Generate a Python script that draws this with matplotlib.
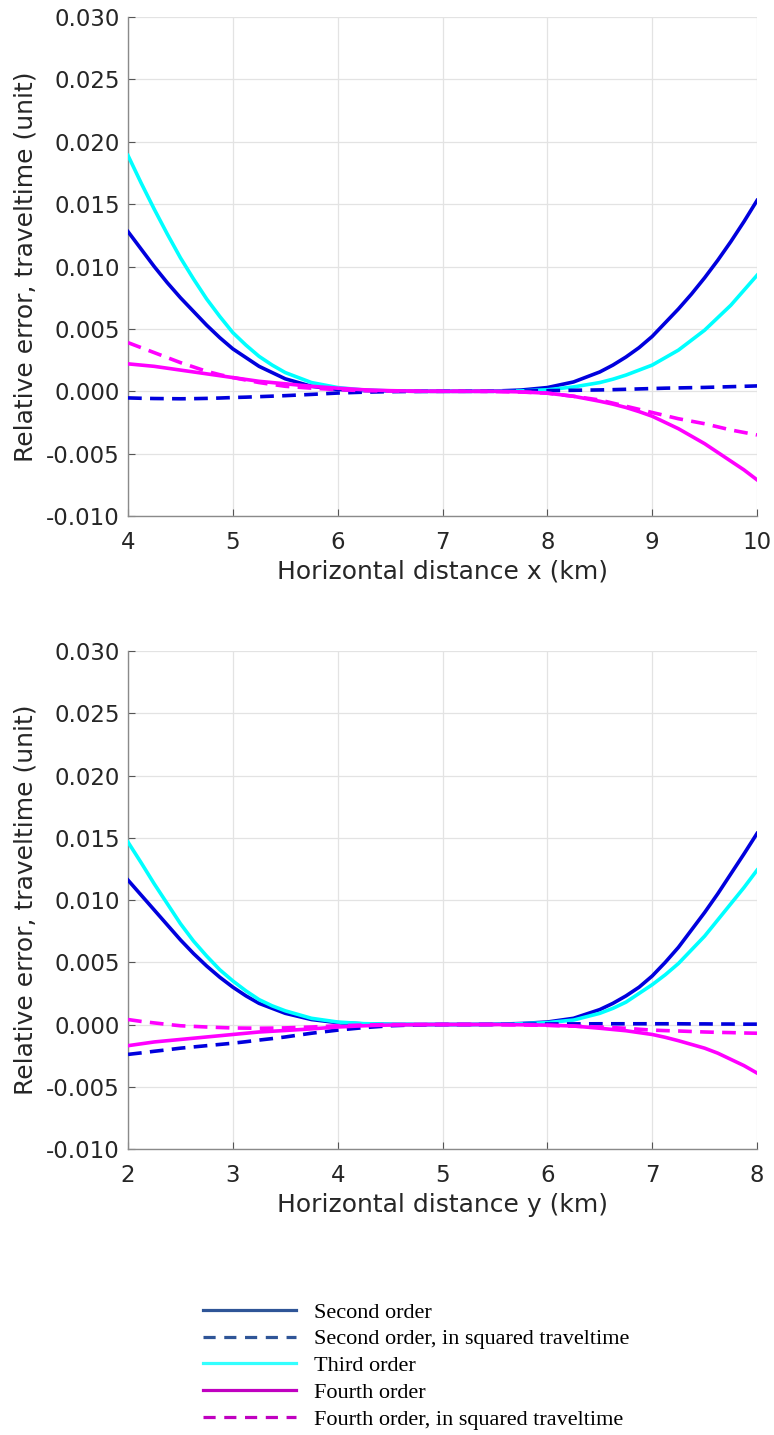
import matplotlib.pyplot as plt
from matplotlib.lines import Line2D
from matplotlib.ticker import FormatStrFormatter

# sample positions (km), denser where the curves bend fast
x_top = [4.0, 4.125, 4.25, 4.375, 4.5, 4.625, 4.75, 4.875, 5.0, 5.125, 5.25, 5.375, 5.5,
         5.75, 6.0, 6.25, 6.5, 6.75, 7.0, 7.25, 7.5, 7.75, 8.0, 8.25,
         8.5, 8.625, 8.75, 8.875, 9.0, 9.125, 9.25, 9.375, 9.5, 9.625, 9.75, 9.875, 10.0]
x_bot = [2.0, 2.125, 2.25, 2.375, 2.5, 2.625, 2.75, 2.875, 3.0, 3.125, 3.25, 3.375, 3.5,
         3.75, 4.0, 4.25, 4.5, 4.75, 5.0, 5.25, 5.5, 5.75, 6.0, 6.25,
         6.5, 6.625, 6.75, 6.875, 7.0, 7.125, 7.25, 7.375, 7.5, 7.625, 7.75, 7.875, 8.0]

# top panel: error along x
second_x = [0.0128, 0.0114, 0.0100, 0.0087, 0.0075, 0.0064, 0.0053, 0.0043, 0.0034,
            0.0027, 0.0020, 0.0015, 0.0010,
            0.0004, 0.00015, 0.00006, 0.00002, 0.0, 0.0, 0.0, 0.00002, 0.0001, 0.0003, 0.00075,
            0.00155, 0.0021, 0.00275, 0.0035, 0.0044, 0.0055, 0.0066, 0.0078, 0.0091,
            0.0105, 0.0120, 0.0136, 0.0153]
second_sq_x = [-0.00053, -0.00056, -0.00058, -0.00059, -0.0006, -0.00059, -0.00057,
               -0.00054, -0.0005, -0.00047, -0.00043, -0.00039, -0.00035,
               -0.00025, -0.00014, -0.00007, -0.00003, -0.00001, 0.0, 0.0, 0.0,
               0.00002, 0.00005, 0.00008,
               0.00011, 0.00013, 0.00016, 0.00019, 0.00022, 0.00025, 0.00027, 0.00029,
               0.00031, 0.00034, 0.00037, 0.0004, 0.00043]
third_x = [0.0189, 0.0167, 0.0146, 0.0126, 0.0107, 0.0090, 0.0074, 0.0060, 0.0047,
           0.0037, 0.0028, 0.0021, 0.0015,
           0.0007, 0.0003, 0.0001, 0.00003, 0.0, 0.0, 0.0, 0.0, 0.00003, 0.00012, 0.00035,
           0.0007, 0.00097, 0.0013, 0.0017, 0.0021, 0.0027, 0.0033, 0.0041, 0.0049,
           0.0059, 0.0069, 0.0081, 0.0093]
fourth_x = [0.0022, 0.0021, 0.0020, 0.00185, 0.0017, 0.00155, 0.0014, 0.00125, 0.0011,
            0.00095, 0.0008, 0.0007, 0.0006,
            0.0004, 0.00025, 0.00012, 0.00005, 0.00001, 0.0, 0.0, 0.0, -0.00005,
            -0.00015, -0.0004,
            -0.0008, -0.00103, -0.0013, -0.00163, -0.0020, -0.0025, -0.0030, -0.0036,
            -0.0042, -0.0049, -0.0056, -0.0063, -0.0071]
fourth_sq_x = [0.0039, 0.0035, 0.0031, 0.0027, 0.0023, 0.00195, 0.0016, 0.00133, 0.0011,
               0.0009, 0.0007, 0.00055, 0.0004,
               0.00025, 0.00013, 0.00005, 0.00002, 0.0, 0.0, 0.0, -0.00002, -0.00006,
               -0.00015, -0.0004,
               -0.0007, -0.00095, -0.0012, -0.00145, -0.0017, -0.00195, -0.0022,
               -0.0024, -0.0026, -0.00285, -0.0031, -0.0033, -0.0035]

# bottom panel: error along y
second_y = [0.0116, 0.0104, 0.0092, 0.0080, 0.0068, 0.0057, 0.0047, 0.0038, 0.0030,
            0.0023, 0.0017, 0.0013, 0.0009,
            0.0004, 0.00015, 0.00005, 0.00001, 0.0, 0.0, 0.0, 0.00002, 0.00008, 0.0002, 0.0005,
            0.0012, 0.0017, 0.0023, 0.0030, 0.0039, 0.0050, 0.0062, 0.0076, 0.0090,
            0.0105, 0.0121, 0.0137, 0.01535]
second_sq_y = [-0.0024, -0.00228, -0.00215, -0.00203, -0.0019, -0.0018, -0.0017,
               -0.0016, -0.0015, -0.00138, -0.00125, -0.00113, -0.001,
               -0.0007, -0.00045, -0.00025, -0.0001, -0.00003, 0.0, 0.0, 0.0,
               0.00002, 0.00004, 0.00005,
               0.00006, 0.00006, 0.00006, 0.00006, 0.00006, 0.00006, 0.00006, 0.00005,
               0.00005, 0.00004, 0.00004, 0.00003, 0.00003]
third_y = [0.01465, 0.0130, 0.0113, 0.0097, 0.0081, 0.0067, 0.0055, 0.0044, 0.0035,
           0.0027, 0.0020, 0.0015, 0.0011,
           0.0005, 0.0002, 0.00007, 0.00002, 0.0, 0.0, 0.0, 0.00002, 0.00006, 0.00015,
           0.00036,
           0.0009, 0.0013, 0.0018, 0.0025, 0.0032, 0.0040, 0.0049, 0.0060, 0.0071,
           0.0084, 0.0097, 0.0110, 0.0124]
fourth_y = [-0.0017, -0.00155, -0.0014, -0.0013, -0.0012, -0.0011, -0.001, -0.0009,
            -0.0008, -0.0007, -0.0006, -0.00054, -0.00048,
            -0.00035, -0.0002, -0.0001, -0.00004, -0.00001, 0.0, 0.0, 0.0, -0.00002,
            -0.00005, -0.00012,
            -0.0003, -0.0004, -0.0005, -0.00065, -0.0008, -0.00103, -0.0013, -0.0016,
            -0.0019, -0.0023, -0.0028, -0.0033, -0.0039]
fourth_sq_y = [0.0004, 0.00025, 0.00013, 0.00001, -0.0001, -0.00015, -0.0002, -0.00024,
               -0.00028, -0.00029, -0.0003, -0.00029, -0.00027,
               -0.0002, -0.0001, -0.00004, -0.00001, 0.0, 0.0, 0.0, 0.0, -0.00003,
               -0.00007, -0.00013,
               -0.0002, -0.00025, -0.0003, -0.00038, -0.00045, -0.00049, -0.00052,
               -0.00056, -0.0006, -0.00063, -0.00065, -0.00068, -0.0007]

labels = ["Second order", "Second order, in squared traveltime", "Third order",
          "Fourth order", "Fourth order, in squared traveltime"]
y_ticks = [-0.010, -0.005, 0.000, 0.005, 0.010, 0.015, 0.020, 0.025, 0.030]

BLUE = '#0000dd'
CYAN = '#00ffff'
MAGENTA = '#ff00ff'
LW = 2.6
DASH = (3.8, 2.3)

fig = plt.figure(figsize=(7.74, 14.35), dpi=100)
ax1 = fig.add_axes([0.1654, 0.6404, 0.8127, 0.3477])
ax2 = fig.add_axes([0.1654, 0.1993, 0.8127, 0.3470])


def draw(ax, x, s, ssq, t, f, fsq, xlim, xlabel):
    ax.plot(x, s, color=BLUE, lw=LW, zorder=3)
    ax.plot(x, t, color=CYAN, lw=LW, zorder=3)
    ax.plot(x, ssq, color=BLUE, lw=LW, dashes=DASH, zorder=3)
    ax.plot(x, fsq, color=MAGENTA, lw=LW, dashes=DASH, zorder=3)
    ax.plot(x, f, color=MAGENTA, lw=LW, zorder=3)
    ax.set_xlim(*xlim)
    ax.set_ylim(-0.010, 0.030)
    ax.set_yticks(y_ticks)
    ax.set_xticks(range(xlim[0], xlim[1] + 1))
    ax.yaxis.set_major_formatter(FormatStrFormatter('%.3f'))
    ax.grid(True, color='#e3e3e3', lw=0.9)
    ax.set_axisbelow(True)
    for side in ['top', 'right']:
        ax.spines[side].set_visible(False)
    for side in ['left', 'bottom']:
        ax.spines[side].set_color('#8a8a8a')
        ax.spines[side].set_linewidth(1.0)
    ax.tick_params(direction='in', length=5, color='#555555', labelsize=16.5,
                   labelcolor='#262626')
    ax.tick_params(axis='y', pad=6)
    ax.tick_params(axis='x', pad=11)
    ax.set_xlabel(xlabel, fontsize=18, color='#262626', labelpad=4)
    ax.set_ylabel("Relative error, traveltime (unit)", fontsize=18,
                  color='#262626', labelpad=6)


draw(ax1, x_top, second_x, second_sq_x, third_x, fourth_x, fourth_sq_x,
     (4, 10), "Horizontal distance x (km)")
draw(ax2, x_bot, second_y, second_sq_y, third_y, fourth_y, fourth_sq_y,
     (2, 8), "Horizontal distance y (km)")

handles = [
    Line2D([], [], color='#2f5597', lw=2.3),
    Line2D([], [], color='#2f5597', lw=2.3, dashes=(3.8, 2.7)),
    Line2D([], [], color='#33ffff', lw=2.3),
    Line2D([], [], color='#c000c0', lw=2.3),
    Line2D([], [], color='#c000c0', lw=2.3, dashes=(3.8, 2.7)),
]
fig.legend(handles, labels, loc='upper left',
           bbox_to_anchor=(203 / 774, 1 - 1302 / 1435),
           frameon=False, borderpad=0, borderaxespad=0,
           handlelength=4.2, handletextpad=0.8, labelspacing=0.28,
           prop={'family': 'Liberation Serif', 'size': 16})

fig.savefig('out.png', dpi=100)
